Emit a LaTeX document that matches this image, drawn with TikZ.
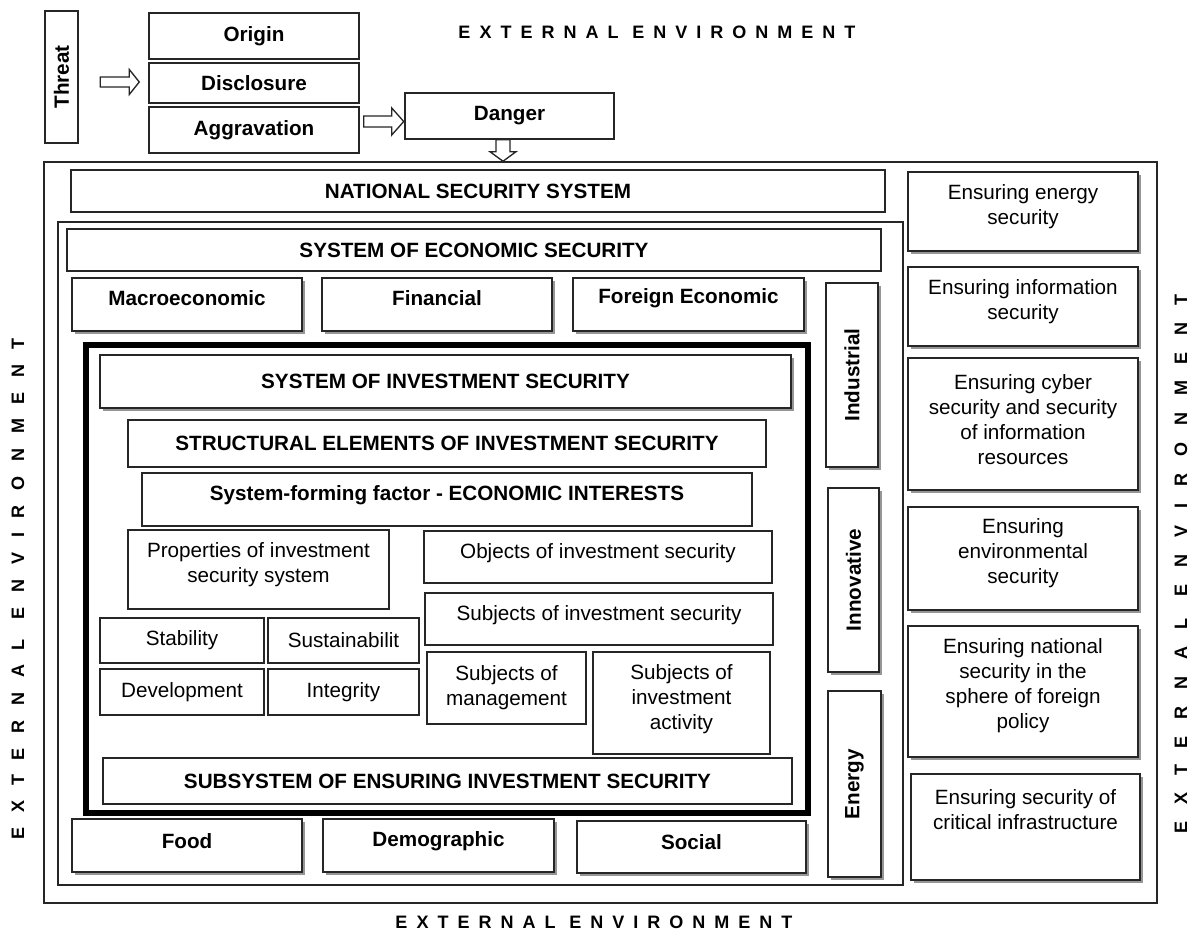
\documentclass[tikz,border=0pt]{standalone}
\usepackage{fontspec}
\setmainfont{Liberation Sans}
\newfontfamily\spacedA[LetterSpace=50]{Liberation Sans}
\newfontfamily\spacedC[LetterSpace=82]{Liberation Sans}
\newfontfamily\spacedD[LetterSpace=94]{Liberation Sans}
\usetikzlibrary{shadows,calc}
\newcommand\fsz{\fontsize{15.5}{18.8}\selectfont}
\newcommand\extsz{\fontsize{13.5}{15}\selectfont\bfseries}
\tikzset{
  rc/.style n args={4}{minimum width={(#3-#1)*0.75pt}, minimum height={(#4-#2)*0.75pt},
     at={({(#1+#3)/2},{(#2+#4)/2})}},
  bx/.style={draw=black!85, line width=1.1pt, fill=white, inner sep=0pt, align=center, font=\fsz},
  bb/.style={bx, font=\fsz\bfseries},
  up/.style={text depth=#1},
  sh/.style={drop shadow={shadow xshift=2.6pt, shadow yshift=-2.6pt, fill=black!55, opacity=0.75}},
  frame/.style={draw=black!85, line width=1.1pt, fill=white, inner sep=0pt},
  thickframe/.style={draw=black, line width=3.8pt, inner sep=0pt},
  harr/.style={draw=black!85, line width=1pt, fill=white},
  ext/.style={inner sep=0pt}
}
\begin{document}
\begin{tikzpicture}[x=0.75pt,y=-0.75pt]
\useasboundingbox (0,0) rectangle (1193,932);
\fill[white] (0,0) rectangle (1193,932);

% external environment labels
\node[ext, font=\spacedA\extsz] (exttop) at (657,32) {EXTERNAL ENVIRONMENT};
\node[ext, font=\spacedA\extsz] (extbot) at (594,922) {EXTERNAL ENVIRONMENT};
\node[ext, font=\spacedC\extsz, rotate=90] (extleft) at (18,589) {EXTERNAL ENVIRONMENT};
\node[ext, font=\spacedD\extsz, rotate=90] (extright) at (1181,564) {EXTERNAL ENVIRONMENT};

% top chain
\node[bb, rc={45}{11}{78}{143}] (threat) {\rotatebox{90}{Threat}};
\node[bb, rc={149}{13}{359}{59}] (origin) {Origin};
\node[bb, rc={149}{63}{359}{103}] (disc) {Disclosure};
\node[bb, rc={149}{107}{359}{153}] (aggr) {Aggravation};
\node[bb, rc={405}{93}{614}{139}] (danger) {Danger};

\draw[harr] ($(disc.west)+(-48,-6)$) -- ++(29,0) -- ++(0,-7.5) -- ++(10,12.5) -- ++(-10,12.5) -- ++(0,-7.5) -- ++(-29,0) -- cycle;
\draw[harr] ($(aggr.east)+(4,-14)$) -- ++(28,0) -- ++(0,-8) -- ++(12,13.5) -- ++(-12,13.5) -- ++(0,-8) -- ++(-28,0) -- cycle;

% outer frame
\node[frame, rc={44}{162}{1157}{903}] (outer) {};
\draw[harr] ($(danger.south)+(-13.5,0)$) -- ++(0,12) -- ++(-6,0) -- ++(13,9.5) -- ++(13,-9.5) -- ++(-6,0) -- ++(0,-12) -- cycle;

\node[bb, rc={71}{170}{885}{212}] (nss) {NATIONAL SECURITY SYSTEM};
\node[frame, rc={58}{222}{903}{885}] (econframe) {};
\node[bb, rc={67}{229}{881}{271}] (ses) {SYSTEM OF ECONOMIC SECURITY};

\node[bb, sh, up=9pt, rc={72}{278}{302}{331}] (macro) {Macroeconomic};
\node[bb, sh, up=9pt, rc={322}{278}{552}{331}] (fin) {Financial};
\node[bb, sh, up=12.3pt, rc={573}{278}{804}{331}] (foreign) {Foreign Economic};

\node[bb, sh, rc={826}{283}{878}{467}] (indus) {\rotatebox{90}{Industrial}};
\node[bb, sh, rc={828}{488}{879}{672}] (innov) {\rotatebox{90}{Innovative}};
\node[bb, sh, rc={828}{691}{881}{877}] (energy) {\rotatebox{90}{Energy}};

% investment frame
\node[thickframe, rc={86}{345}{808}{813}] (invframe) {};
\node[bb, sh, rc={100}{355}{791}{408}] (sis) {SYSTEM OF INVESTMENT SECURITY};
\node[bb, rc={128}{420}{766}{467}] (struct) {STRUCTURAL ELEMENTS OF INVESTMENT SECURITY};
\node[bb, up=10pt, rc={142}{473}{752}{526}] (factor) {System-forming factor - ECONOMIC INTERESTS};

\node[bx, up=10.5pt, rc={128}{530}{389}{609}] (props) {Properties of investment\\security system};
\node[bx, up=9.3pt, rc={424}{531}{772}{583}] (objects) {Objects of investment security};
\node[bx, up=9.3pt, rc={425}{593}{773}{645}] (subjects) {Subjects of investment security};
\node[bx, rc={100}{618}{264}{663}] (stab) {Stability};
\node[bx, rc={268}{618}{419}{663}] (sust) {Sustainabilit};
\node[bx, rc={100}{669}{264}{715}] (devel) {Development};
\node[bx, rc={268}{669}{419}{715}] (integ) {Integrity};
\node[bx, rc={427}{652}{586}{724}] (subman) {Subjects of\\management};
\node[bx, up=9.3pt, rc={593}{652}{770}{754}] (subact) {Subjects of\\investment\\activity};
\node[bb, rc={103}{758}{792}{804}] (subsys) {SUBSYSTEM OF ENSURING INVESTMENT SECURITY};

\node[bb, sh, up=6.8pt, rc={72}{819}{302}{872}] (food) {Food};
\node[bb, sh, up=10pt, rc={323}{819}{554}{872}] (demo) {Demographic};
\node[bb, sh, up=6.8pt, rc={577}{821}{806}{873}] (social) {Social};

% right column
\node[bx, sh, up=10pt, rc={908}{172}{1138}{251}] (e1) {Ensuring energy\\security};
\node[bx, sh, up=10pt, rc={908}{267}{1138}{346}] (e2) {Ensuring information\\security};
\node[bx, sh, up=7pt, rc={908}{358}{1138}{490}] (e3) {Ensuring cyber\\security and security\\of information\\resources};
\node[bx, sh, up=11pt, rc={908}{507}{1138}{610}] (e4) {Ensuring\\environmental\\security};
\node[bx, sh, up=11.5pt, rc={908}{626}{1138}{757}] (e5) {Ensuring national\\security in the\\sphere of foreign\\policy};
\node[bx, sh, up=26pt, rc={911}{774}{1140}{880}] (e6) {Ensuring security of\\critical infrastructure};
\end{tikzpicture}
\end{document}
